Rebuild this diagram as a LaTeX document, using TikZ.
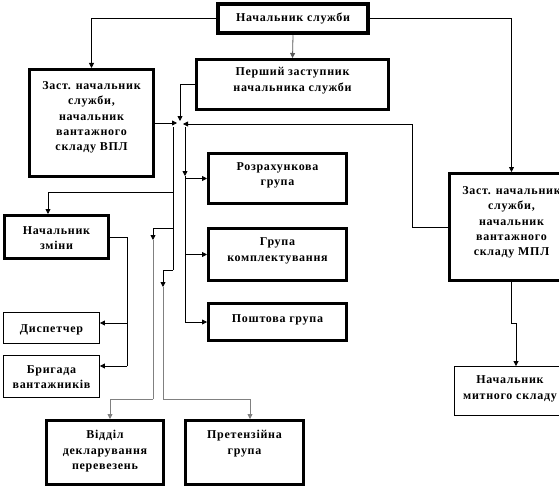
\documentclass[tikz,border=0pt]{standalone}
\usepackage{fontspec}
\setmainfont{Liberation Serif}[LetterSpace=6]
\usetikzlibrary{arrows.meta}
\newcommand\boxtxt[2][0pt]{\raisebox{#1}[\height][\depth]{\begin{tabular}{@{}c@{}}#2\end{tabular}}}
\begin{document}
\begin{tikzpicture}[x=1pt,y=-1pt,
  box/.style={draw, fill=white, inner sep=0pt,
    font=\fontsize{12}{15.3}\selectfont\bfseries},
  boldbox/.style={box, line width=3pt},
  thinbox/.style={box, line width=0.9pt},
  topbox/.style={box, line width=4.5pt},
  arr/.style={-{Triangle[length=5pt,width=5pt]}, line width=0.8pt},
  ln/.style={line width=0.8pt},
  gl/.style={line width=0.9pt, draw=gray}]
\fill[white] (0,0) rectangle (559,495);
\useasboundingbox (0,0) rectangle (559,495);
\clip (0,0) rectangle (559,495);

% boxes
\node[topbox, minimum width=150, minimum height=29] (top) at (293,18.5) {\boxtxt{Начальник служби}};
\node[boldbox, minimum width=124, minimum height=107] (b2) at (91.5,123) {\boxtxt[6pt]{Заст. начальник\\ служби,\\ начальник\\ вантажного\\ складу ВПЛ}};
\node[boldbox, minimum width=192, minimum height=50] (b3) at (292.5,84.5) {\boxtxt[4pt]{Перший заступник\\ начальника служби}};
\node[boldbox, minimum width=138, minimum height=50] (b4) at (277.5,178.5) {\boxtxt[3.5pt]{Розрахункова\\ група}};
\node[boldbox, minimum width=138, minimum height=52] (b5) at (277.5,254.5) {\boxtxt[4pt]{Група\\ комплектування}};
\node[boldbox, minimum width=138, minimum height=37] (b6) at (277.5,322) {\boxtxt[3pt]{Поштова група}};
\node[boldbox, minimum width=104, minimum height=43] (b7) at (56.5,237) {\boxtxt[-2pt]{Начальник\\ зміни}};
\node[thinbox, minimum width=96, minimum height=31] (b8) at (51.5,328) {\boxtxt[-1.5pt]{Диспетчер}};
\node[thinbox, minimum width=96, minimum height=42] (b9) at (51.5,376.5) {\boxtxt[-1.5pt]{Бригада\\ вантажників}};
\node[boldbox, minimum width=117, minimum height=64] (b10) at (105,452.5) {\boxtxt[1.5pt]{Відділ\\ декларування\\ перевезень}};
\node[boldbox, minimum width=118, minimum height=64] (b11) at (244.5,452.5) {\boxtxt[9pt]{Претензійна\\ група}};
\node[boldbox, minimum width=124, minimum height=107] (b12) at (511.5,227) {\boxtxt[5pt]{Заст. начальник\\ служби,\\ начальник\\ вантажного\\ складу МПЛ}};
\node[thinbox, minimum width=111, minimum height=49] (b13) at (510,391) {\boxtxt[2.5pt]{Начальник\\ митного складу}};

% coordinates
\coordinate (jt) at (180,121);
\coordinate (jl) at (177,123);
\coordinate (jr) at (183,124);
\coordinate (rc) at (412,124);
\coordinate (v1) at (173,127);
\coordinate (v1b) at (173,270);
\coordinate (v2) at (185,127);
\coordinate (v2a) at (185,176);
\coordinate (a1) at (173,192);
\coordinate (a2) at (173,228);
\coordinate (a2t) at (153,240);
\coordinate (a2b) at (153,399);
\coordinate (a3) at (173,270);
\coordinate (a3t) at (163,287);
\coordinate (a3b) at (163,399);
\coordinate (d0) at (127,366);
\coordinate (d1) at (127,323);
\coordinate (e1) at (511.5,323);
\coordinate (e2) at (516,323);

% top connectors
\draw[arr] (top.west) -| (b2.north);
\draw[arr, draw=gray!70!black] (top.south) -- (b3.north);
\draw[arr] (top.east) -| (b12.north);

% junction
\draw[arr] (b3.west) -| (jt);
\draw[arr] (b2.east) -- (jl);
\draw[arr] (b12.west) -| (rc) -- (jr);

% right vertical
\draw[arr] (v2) -- (v2a);
\draw[ln] (v2a) -- (b6.west -| v2);
\draw[arr] (b4.west -| v2) -- (b4.west);
\draw[arr] (b5.west -| v2) -- (b5.west);
\draw[arr] (b6.west -| v2) -- (b6.west);

% left vertical
\draw[ln] (v1) -- (v1b);
\draw[arr] (a1) -| ([xshift=-8.5pt]b7.north);
\draw[arr] (a2) -| (a2t);
\draw[gl] (a2t) -- (a2b);
\draw[arr, gray] (a2b) -| ([xshift=5pt]b10.north);
\draw[arr] (a3) -| (a3t);
\draw[gl] (a3t) -- (a3b);
\draw[arr, gray] (a3b) -| ([xshift=5.5pt]b11.north);

% shift leader
\draw[ln] (b7.east) -| (d0);
\draw[arr] (d1) -- (d1 -| b8.east);
\draw[arr] (d0) -- (d0 -| b9.east);

% MPL
\draw[arr] (b12.south) -- (e1) -- (e2) -- ([xshift=6pt]b13.north);
\end{tikzpicture}
\end{document}
